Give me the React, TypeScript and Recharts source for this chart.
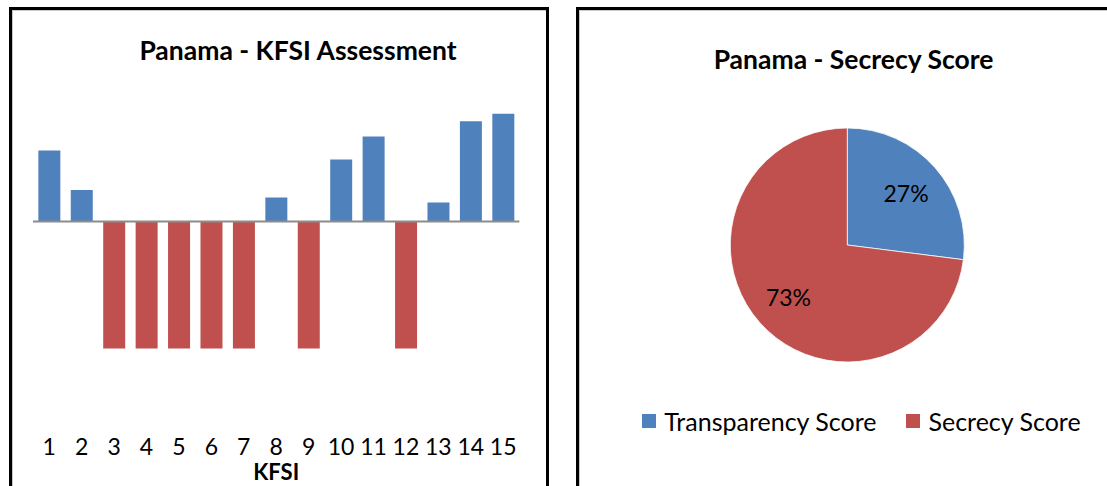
import React from 'react';
import { BarChart, Bar, XAxis, YAxis, ReferenceLine, Label, PieChart, Pie, Cell, Legend } from 'recharts';

const categories = ['1', '2', '3', '4', '5', '6', '7', '8', '9', '10', '11', '12', '13', '14', '15'];
const transparencyValues = [0.56, 0.25, null, null, null, null, null, 0.19, null, 0.49, 0.67, null, 0.15, 0.79, 0.85];
const secrecyValues = [null, null, -1, -1, -1, -1, -1, null, -1, null, null, -1, null, null, null];

const pieNames = ['Transparency Score', 'Secrecy Score'];
const pieValues = [27, 73];
const pieColors = ['#4F81BD', '#C0504D'];

const barData = categories.map((c, i) => ({ k: c, t: transparencyValues[i], s: secrecyValues[i] }));
const pieData = pieNames.map((n, i) => ({ name: n, value: pieValues[i] }));

const FONT = 'Lato, "Open Sans", sans-serif';

const Tick = (props: any) => {
  const { x, y, payload } = props;
  return (
    <text x={x} y={y + 43} textAnchor="middle" fontSize={23} fontFamily={FONT} fill="#000">
      {payload.value}
    </text>
  );
};

const RADIAN = Math.PI / 180;
const PieLabel = (props: any) => {
  const { cx, cy, midAngle, outerRadius, percent } = props;
  const r = outerRadius * 0.67;
  const x = cx + r * Math.cos(-midAngle * RADIAN);
  const y = cy + r * Math.sin(-midAngle * RADIAN);
  return (
    <text x={x} y={y} textAnchor="middle" dominantBaseline="central" fontSize={23} fontFamily={FONT} fill="#000">
      {`${Math.round(percent * 100)}%`}
    </text>
  );
};

const LegendContent = (props: any) => {
  const items = [...(props.payload || [])].sort(
    (a: any, b: any) => pieNames.indexOf(a.value) - pieNames.indexOf(b.value)
  );
  return (
    <div style={{ display: 'flex', justifyContent: 'center', alignItems: 'center', fontFamily: FONT, fontSize: 25, color: '#000', lineHeight: '28px' }}>
      {items.map((e: any, i: number) => (
        <span key={i} style={{ display: 'flex', alignItems: 'center', marginRight: i === 0 ? 30 : 0 }}>
          <span style={{ width: 14, height: 14, background: e.color, marginRight: 8, display: 'inline-block' }} />
          {e.value}
        </span>
      ))}
    </div>
  );
};

export default function App() {
  return (
    <div style={{ position: 'absolute', left: 0, top: 0, width: 1107, height: 486, overflow: 'hidden', background: '#fff' }}>
      <div style={{ position: 'absolute', left: 9, top: 7, width: 540, height: 520, border: '3px solid #000', boxSizing: 'border-box', boxShadow: 'inset 1px 1px 0 #c8c8c8' }} />
      <div style={{ position: 'absolute', left: 576, top: 7, width: 560, height: 520, border: '3px solid #000', boxSizing: 'border-box', boxShadow: 'inset 1px 1px 0 #c8c8c8' }} />

      <div style={{ position: 'absolute', left: 0, top: 0 }}>
        <BarChart width={560} height={486} data={barData} margin={{ top: 94.7, right: 40.6, bottom: 4, left: 33 }} stackOffset="sign" barCategoryGap="16.5%">
          <XAxis dataKey="k" axisLine={false} tickLine={false} tickSize={0} tickMargin={0} height={70} interval={0} tick={<Tick />}>
            <Label value="KFSI" position="insideBottom" offset={2} fontSize={22} fontWeight="bold" fontFamily={FONT} fill="#000" />
          </XAxis>
          <YAxis hide type="number" domain={[-1.5, 1]} allowDataOverflow />
          <Bar dataKey="t" stackId="a" fill="#4F81BD" isAnimationActive={false} />
          <Bar dataKey="s" stackId="a" fill="#C0504D" isAnimationActive={false} />
          <ReferenceLine y={0} stroke="#8c8c8c" strokeWidth={2} />
        </BarChart>
      </div>

      <div style={{ position: 'absolute', left: 578, top: 0 }}>
        <PieChart width={529} height={486} margin={{ top: 0, right: 0, bottom: 0, left: 0 }}>
          <Pie data={pieData} dataKey="value" nameKey="name" cx={269.3} cy={245} outerRadius={117} startAngle={90} endAngle={-270} stroke="#ffffff" strokeWidth={0.75} label={PieLabel} labelLine={false} isAnimationActive={false}>
            {pieData.map((d, i) => (
              <Cell key={d.name} fill={pieColors[i]} />
            ))}
          </Pie>
          <Legend layout="horizontal" verticalAlign="middle" align="center" content={<LegendContent />} wrapperStyle={{ left: 19, top: 407, width: 529 }} />
        </PieChart>
      </div>

      <svg width={1107} height={486} style={{ position: 'absolute', left: 0, top: 0, pointerEvents: 'none' }}>
        <text x={298} y={59.5} textAnchor="middle" fontSize={26.5} fontWeight="bold" fontFamily={FONT} fill="#000">Panama - KFSI Assessment</text>
        <text x={853.5} y={69} textAnchor="middle" fontSize={26.5} fontWeight="bold" fontFamily={FONT} fill="#000">Panama - Secrecy Score</text>
      </svg>
    </div>
  );
}
